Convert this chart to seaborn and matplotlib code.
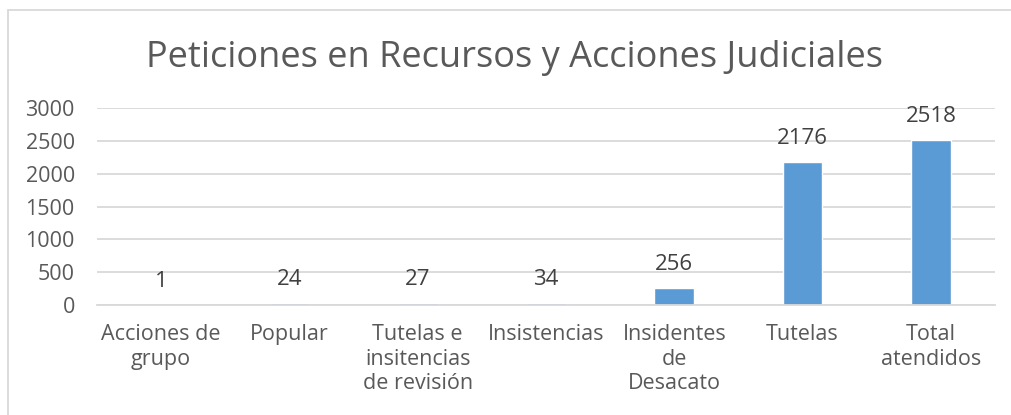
import matplotlib
matplotlib.use("Agg")
import matplotlib.pyplot as plt
import seaborn as sns
from matplotlib.lines import Line2D

categories = ["Acciones de\ngrupo", "Popular", "Tutelas e\ninsitencias\nde revisión",
              "Insistencias", "Insidentes\nde\nDesacato", "Tutelas", "Total\natendidos"]
values = [1, 24, 27, 34, 256, 2176, 2518]
yticks = [0, 500, 1000, 1500, 2000, 2500, 3000]

sns.set_style("white")
plt.rcParams['font.family'] = ['Open Sans', 'DejaVu Sans']

text_color = "#595959"
grid_color = "#D9D9D9"

fig = plt.figure(figsize=(10.11, 4.15), dpi=100)
ax = fig.add_axes([97 / 1011, 1 - 305 / 415, (995 - 97) / 1011, (305 - 108) / 415])

sns.barplot(x=categories, y=values, color="#5B9BD5", width=0.31, saturation=1, ax=ax)

ax.set_ylim(0, 3000)
ax.set_yticks(yticks)
ax.set_yticklabels([str(t) for t in yticks])
ax.set_xlim(-0.5, len(categories) - 0.5)
ax.yaxis.grid(True, color=grid_color, linewidth=1.3)
ax.set_axisbelow(True)
for s in ["top", "right", "left"]:
    ax.spines[s].set_visible(False)
ax.spines["bottom"].set_color(grid_color)
ax.spines["bottom"].set_linewidth(1.3)
ax.tick_params(axis="y", length=0, pad=16, labelsize=15.5, labelcolor=text_color)
ax.tick_params(axis="x", length=0, pad=14, labelsize=15.5, labelcolor=text_color)
for lab in ax.get_xticklabels():
    lab.set_linespacing(1.22)
    lab.set_horizontalalignment("center")
ax.set_xlabel("")
ax.set_ylabel("")

for i, v in enumerate(values):
    ax.annotate(str(v), (i, v), xytext=(0, 13), textcoords="offset points",
                ha="center", va="baseline", fontsize=16, color="#404040")

fig.text(515 / 1011, 1 - 67 / 415, "Peticiones en Recursos y Acciones Judiciales",
         ha="center", va="baseline", fontsize=26, color=text_color)

# chart frame (Excel style)
fig.add_artist(Line2D([8 / 1011, 8 / 1011], [0, 1 - 10 / 415], transform=fig.transFigure,
                      color=grid_color, linewidth=1.3))
fig.add_artist(Line2D([8 / 1011, 1], [1 - 10 / 415, 1 - 10 / 415], transform=fig.transFigure,
                      color=grid_color, linewidth=1.3))

fig.savefig("out.png", dpi=100)
